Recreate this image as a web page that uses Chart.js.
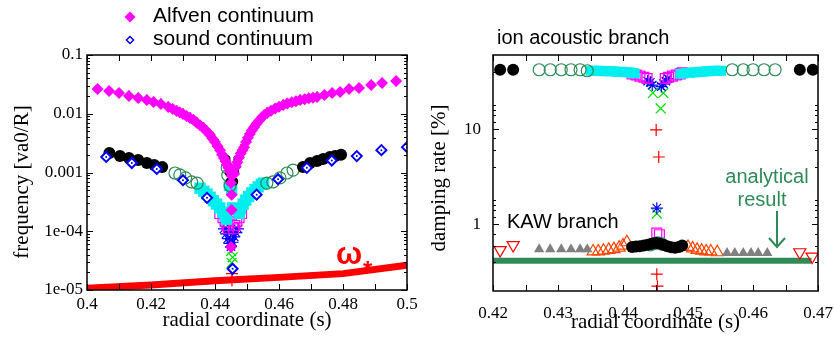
<!DOCTYPE html>
<html>
<head>
<meta charset="utf-8">
<script src="https://cdn.jsdelivr.net/npm/chart.js@4/dist/chart.umd.min.js"></script>
<style>
html, body { margin: 0; padding: 0; background: #fff; }
#wrap { display: flex; width: 834px; height: 338px; }
canvas { display: block; }
</style>
</head>
<body>
<div id="wrap">
    <canvas id="freqChart" width="417" height="338"></canvas>
    <canvas id="dampChart" width="417" height="338"></canvas>
</div>
<script>
// ---------- left panel: frequency of the continua ----------
const freqTickX = [0.40, 0.42, 0.44, 0.46, 0.48, 0.50];
const freqLabelX = ['0.4', '0.42', '0.44', '0.46', '0.48', '0.5'];
const freqTickY = [1e-5, 1e-4, 1e-3, 1e-2, 0.1];
const freqLabelY = ['1e-05', '1e-04', '0.001', '0.01', '0.1'];

const alfvenS = [0.4033, 0.4069, 0.4100, 0.4131, 0.4160, 0.4187, 0.4208, 0.4231, 0.4254, 0.4268, 0.4280, 0.4290, 0.4300, 0.4311,
    0.4322, 0.4333, 0.4343, 0.4354, 0.4364, 0.4374, 0.4384, 0.4392, 0.4400, 0.4408, 0.4416, 0.4422, 0.4428, 0.4433, 0.4437, 0.4442,
    0.4447, 0.4452, 0.4450, 0.4452, 0.4452, 0.4450,
    0.4460, 0.4465, 0.4470, 0.4475, 0.4480, 0.4486, 0.4491, 0.4497, 0.4503, 0.4509, 0.4515, 0.4522, 0.4530, 0.4538, 0.4546, 0.4554,
    0.4563, 0.4575, 0.4588, 0.4600, 0.4613, 0.4626, 0.4640, 0.4653, 0.4666, 0.4680, 0.4693, 0.4706, 0.4719, 0.4742, 0.4766, 0.4791,
    0.4819, 0.4850, 0.4888, 0.4922, 0.4966];
const alfvenF = [0.0264, 0.0244, 0.0225, 0.0200, 0.0185, 0.0171, 0.0158, 0.0147, 0.0130, 0.0121, 0.0111, 0.0105, 0.0099, 0.0092,
    0.0085, 0.0078, 0.0070, 0.0063, 0.0057, 0.0050, 0.0044, 0.0038, 0.0033, 0.0028, 0.0024, 0.0020, 0.00177, 0.00155, 0.00135, 0.0012,
    0.00103, 0.00087, 0.00066, 0.00042, 0.00023, 0.000054,
    0.00095, 0.00125, 0.0015, 0.0018, 0.0021, 0.0024, 0.0027, 0.0033, 0.0039, 0.0045, 0.0052, 0.0059, 0.0068, 0.0077, 0.0086, 0.0095,
    0.0103, 0.0113, 0.0123, 0.0132, 0.0141, 0.0149, 0.0157, 0.0164, 0.0171, 0.0177, 0.0183, 0.0188, 0.0193, 0.0209, 0.0225, 0.0234,
    0.0264, 0.0274, 0.0309, 0.0334, 0.0360];

const alfvenRedS = [0.4131, 0.4160, 0.4187, 0.4208, 0.4231, 0.4254, 0.4280, 0.4300, 0.4322, 0.4343, 0.4364, 0.4384, 0.4400,
    0.4491, 0.4522, 0.4563, 0.4613, 0.4666, 0.4719];
const alfvenRedF = [0.0212, 0.0196, 0.0181, 0.0167, 0.0156, 0.0138, 0.0118, 0.0106, 0.0091, 0.0076, 0.0062, 0.0048, 0.0036,
    0.0030, 0.0064, 0.0111, 0.0151, 0.0181, 0.0204];

const alfvenDarkS = [0.4436, 0.4440, 0.4443, 0.4446, 0.4460, 0.4463, 0.4467, 0.4470];
const alfvenDarkF = [0.0017, 0.0013, 0.0010, 0.0007, 0.0007, 0.0010, 0.0013, 0.0017];

const soundS = [0.4060, 0.4140, 0.4218, 0.4300, 0.4375, 0.4455, 0.4530, 0.4597, 0.4687, 0.4765, 0.4843, 0.4920, 0.5000];
const soundF = [0.00184, 0.00145, 0.00115, 0.00074, 0.00037, 0.000023, 0.00042, 0.00077, 0.0012, 0.0016, 0.0019, 0.0024, 0.0027];

const freqBlackS = [0.4070, 0.4103, 0.4131, 0.4160, 0.4187, 0.4210, 0.4235,
    0.4675, 0.4697, 0.4719, 0.4738, 0.4759, 0.4775, 0.4794];
const freqBlackF = [0.00215, 0.00191, 0.00177, 0.00163, 0.00145, 0.00134, 0.00124,
    0.00124, 0.00145, 0.00157, 0.0017, 0.00184, 0.0019, 0.0020];

const freqGreenS = [0.4275, 0.4290, 0.4308, 0.4327, 0.4344, 0.4438, 0.4440, 0.4447, 0.4562, 0.4581, 0.4603, 0.4625, 0.4644];
const freqGreenF = [0.00098, 0.00091, 0.00081, 0.00069, 0.00066, 0.0012, 0.0009, 0.0006, 0.00066, 0.00069, 0.00081, 0.00098, 0.0011];

const freqCyanS = [0.4353, 0.4365, 0.4375, 0.4385, 0.4395, 0.4405, 0.4415, 0.4425, 0.4432, 0.4436, 0.4445, 0.4452, 0.4455,
    0.4475, 0.4480, 0.4488, 0.4496, 0.4505, 0.4515, 0.4525, 0.4535, 0.4545, 0.4552];
const freqCyanF = [0.00054, 0.00048, 0.00043, 0.00038, 0.00033, 0.00029, 0.00025, 0.00021, 0.00018, 0.00016, 0.0006, 0.0005, 0.00025,
    0.0002, 0.00024, 0.00029, 0.00034, 0.00039, 0.00045, 0.00051, 0.00057, 0.00063, 0.00066];

const freqSquareS = [0.4415, 0.4425, 0.4432, 0.4438, 0.4442, 0.4452, 0.4458, 0.4462, 0.4468, 0.4475, 0.4483];
const freqSquareF = [0.0002, 0.00017, 0.000145, 0.000125, 0.00011, 0.00019, 0.00011, 0.000125, 0.000145, 0.00017, 0.0002];

const freqStarS = [0.4428, 0.4435, 0.4440, 0.4445, 0.4448, 0.4450, 0.4455, 0.4460, 0.4465, 0.4472];
const freqStarF = [0.00011, 0.00009, 0.000075, 0.000062, 0.0001, 0.000055, 0.000065, 0.00008, 0.000095, 0.00011];

const freqCrossS = [0.4450, 0.4455, 0.4452];
const freqCrossF = [0.000046, 0.000036, 0.000029];

const freqPlusS = [0.4453, 0.4453];
const freqPlusF = [0.000019, 0.0000145];

const omegaS = [0.40, 0.42, 0.44, 0.46, 0.48, 0.50];
const omegaF = [1.07e-5, 1.22e-5, 1.44e-5, 1.64e-5, 1.9e-5, 2.63e-5];

// ---------- right panel: damping rate ----------
const dampTickX = [0.42, 0.43, 0.44, 0.45, 0.46, 0.47];
const dampLabelX = ['0.42', '0.43', '0.44', '0.45', '0.46', '0.47'];
const dampTickY = [1, 10];
const dampLabelY = ['1', '10'];

const dampBlackS = [0.4211, 0.4231, 0.4672, 0.4692,
    0.4414, 0.4420, 0.4426, 0.4432, 0.4438, 0.4444, 0.4450, 0.4456, 0.4462, 0.4468, 0.4474, 0.4480, 0.4486, 0.4491];
const dampBlackF = [42, 42, 42, 42,
    0.58, 0.585, 0.59, 0.60, 0.61, 0.625, 0.64, 0.63, 0.61, 0.59, 0.575, 0.57, 0.58, 0.60];

const dampGreenS = [0.4271, 0.4288, 0.4305, 0.4320, 0.4334, 0.4345, 0.4568, 0.4585, 0.4600, 0.4617, 0.4634,
    0.4442, 0.4448, 0.4454, 0.4460];
const dampGreenF = [42, 42, 42, 42, 42, 41, 42, 42, 42, 42, 42,
    0.61, 0.63, 0.64, 0.62];

const dampCyanS = [0.4350, 0.4355, 0.4360, 0.4365, 0.4370, 0.4375, 0.4380, 0.4385, 0.4390, 0.4395, 0.4400, 0.4405, 0.4410, 0.4415, 0.4418,
    0.4488, 0.4493, 0.4498, 0.4503, 0.4508, 0.4513, 0.4518, 0.4523, 0.4528, 0.4533, 0.4538, 0.4543, 0.4548, 0.4551, 0.4449, 0.4455];
const dampCyanF = [41, 41, 41, 41, 40.5, 40.5, 40.5, 40.5, 40, 40, 40, 39.5, 39.5, 39, 38.5,
    38, 38.5, 39, 39, 39.5, 39.5, 40, 40, 40.5, 40.5, 41, 41, 41, 41, 0.64, 0.65];

const dampSquareS = [0.4414, 0.4420, 0.4426, 0.4432, 0.4437, 0.4465, 0.4470, 0.4476, 0.4482, 0.4488, 0.4491, 0.4452, 0.4456];
const dampSquareF = [38, 37, 36, 35, 34, 34, 35, 36, 37, 38, 39, 0.81, 0.78];

const dampStarS = [0.4438, 0.4442, 0.4445, 0.4459, 0.4462, 0.4466, 0.4469, 0.4452];
const dampStarF = [32, 31, 29, 28, 30, 32, 34, 1.48];

const dampCrossS = [0.4446, 0.4462, 0.4458, 0.4452];
const dampCrossF = [24, 24, 16.5, 1.3];

const dampPlusS = [0.4451, 0.4455, 0.4452, 0.4453];
const dampPlusF = [9.8, 5.1, 0.30, 0.225];

const kawRedTriS = [0.4211, 0.4231, 0.4672, 0.4691];
const kawRedTriF = [0.537, 0.607, 0.51, 0.46];

const kawGrayTriS = [0.4271, 0.4288, 0.4305, 0.4320, 0.4334, 0.4345, 0.4560, 0.4572, 0.4585, 0.4597, 0.4608, 0.4622];
const kawGrayTriF = [0.55, 0.55, 0.55, 0.55, 0.55, 0.55, 0.50, 0.50, 0.50, 0.50, 0.50, 0.50];

const kawOrangeTriS = [0.4354, 0.4362, 0.4370, 0.4378, 0.4386, 0.4394, 0.4400, 0.4406,
    0.4500, 0.4507, 0.4514, 0.4521, 0.4528, 0.4535, 0.4545];
const kawOrangeTriF = [0.52, 0.52, 0.53, 0.54, 0.55, 0.57, 0.60, 0.65,
    0.58, 0.56, 0.54, 0.53, 0.52, 0.52, 0.51];

const analyticS = [0.4200, 0.4690];
const analyticF = [0.415, 0.415];

// ---------- helpers ----------
function pts(s, f) {
    return s.map((v, i) => ({x: v, y: f[i]}));
}

function diamond(ctx, x, y, r, fill, stroke) {
    ctx.beginPath();
    ctx.moveTo(x, y - r);
    ctx.lineTo(x + r, y);
    ctx.lineTo(x, y + r);
    ctx.lineTo(x - r, y);
    ctx.closePath();
    ctx.fillStyle = fill;
    ctx.fill();
    if (stroke) {
        ctx.strokeStyle = stroke;
        ctx.lineWidth = 1.5;
        ctx.stroke();
    }
}

function verticalText(ctx, text, x, y) {
    ctx.save();
    ctx.translate(x, y);
    ctx.rotate(-Math.PI / 2);
    ctx.fillStyle = '#000';
    ctx.font = '21px "Liberation Serif"';
    ctx.textAlign = 'center';
    ctx.textBaseline = 'middle';
    ctx.fillText(text, 0, 0);
    ctx.restore();
}

// gnuplot-like box with inward ticks on all four sides
function frameFor(xTicks, yMajor, yMinor) {
    return {
        id: 'frame',
        afterDatasetsDraw(chart) {
            const {ctx, chartArea: a, scales: {x, y}} = chart;
            ctx.save();
            ctx.strokeStyle = '#000';
            ctx.lineWidth = 1;
            ctx.beginPath();
            xTicks.forEach(v => {
                const px = Math.round(x.getPixelForValue(v)) + 0.5;
                ctx.moveTo(px, a.bottom); ctx.lineTo(px, a.bottom - 6);
                ctx.moveTo(px, a.top); ctx.lineTo(px, a.top + 6);
            });
            yMajor.forEach(v => {
                const py = Math.round(y.getPixelForValue(v)) + 0.5;
                ctx.moveTo(a.left, py); ctx.lineTo(a.left + 6, py);
                ctx.moveTo(a.right, py); ctx.lineTo(a.right - 6, py);
            });
            yMinor.forEach(v => {
                const py = Math.round(y.getPixelForValue(v)) + 0.5;
                ctx.moveTo(a.left, py); ctx.lineTo(a.left + 3, py);
                ctx.moveTo(a.right, py); ctx.lineTo(a.right - 3, py);
            });
            ctx.stroke();
            ctx.lineWidth = 1.5;
            ctx.strokeRect(a.left, a.top, a.right - a.left, a.bottom - a.top);
            ctx.restore();
        }
    };
}

function logMinor(lo, hi) {
    const out = [];
    for (let d = lo; d < hi; d *= 10) {
        for (let k = 2; k <= 9; k++) {
            if (d * k < hi) out.push(d * k);
        }
    }
    return out;
}

const serifTick = {family: 'Liberation Serif', size: 17};
const serifTitle = {family: 'Liberation Serif', size: 21};

// ---------- left chart ----------
const freqNotes = {
    id: 'freqNotes',
    afterDraw(chart) {
        const ctx = chart.ctx;
        ctx.save();
        verticalText(ctx, 'frequency [va0/R]', 22, 182);
        diamond(ctx, 130, 17, 5.5, '#ff00ff', null);
        diamond(ctx, 130, 40, 3.5, '#ffffff', '#0000ff');
        ctx.fillStyle = '#000';
        ctx.font = '21px "Liberation Sans"';
        ctx.textAlign = 'left';
        ctx.textBaseline = 'middle';
        ctx.fillText('Alfven continuum', 153, 16);
        ctx.fillText('sound continuum', 153, 39);
        ctx.fillStyle = '#ff0000';
        ctx.textBaseline = 'alphabetic';
        ctx.font = 'bold 31px "Liberation Sans"';
        ctx.fillText('ω', 336, 264);
        ctx.font = 'bold 24px "Liberation Sans"';
        ctx.fillText('*', 363, 278);
        ctx.restore();
    }
};

new Chart('freqChart', {
    type: 'scatter',
    data: {
        datasets: [
            {data: pts(soundS, soundF), pointStyle: 'circle', pointRadius: 1, backgroundColor: '#0000ff', borderWidth: 0},
            {data: pts(soundS, soundF), pointStyle: 'rectRot', pointRadius: 5, backgroundColor: '#ffffff', borderColor: '#0000ff', borderWidth: 2},
            {data: pts(alfvenS, alfvenF), pointStyle: 'rectRot', pointRadius: 6, backgroundColor: '#ff00ff', borderWidth: 0},
            {data: pts(alfvenDarkS, alfvenDarkF), pointStyle: 'circle', pointRadius: 4, backgroundColor: '#000', borderWidth: 0},
            {data: pts(alfvenRedS, alfvenRedF), pointStyle: 'cross', pointRadius: 4, borderColor: '#ff2000', borderWidth: 1.5},
            {data: pts(freqBlackS, freqBlackF), pointStyle: 'circle', pointRadius: 6, backgroundColor: '#000', borderWidth: 0},
            {data: pts(freqGreenS, freqGreenF), pointStyle: 'circle', pointRadius: 6, backgroundColor: 'rgba(0,0,0,0)', borderColor: '#2e8b57', borderWidth: 1.2},
            {data: pts(freqCyanS, freqCyanF), pointStyle: 'rect', pointRadius: 8, backgroundColor: '#00eeee', borderWidth: 0},
            {data: pts(freqSquareS, freqSquareF), pointStyle: 'rect', pointRadius: 7, backgroundColor: 'rgba(0,0,0,0)', borderColor: '#ff00ff', borderWidth: 1.2},
            {data: pts(freqStarS, freqStarF), pointStyle: 'star', pointRadius: 6, borderColor: '#0000ff', borderWidth: 1.2},
            {data: pts(freqCrossS, freqCrossF), pointStyle: 'crossRot', pointRadius: 7, borderColor: '#00dd00', borderWidth: 1.2},
            {data: pts(freqPlusS, freqPlusF), pointStyle: 'cross', pointRadius: 6, borderColor: '#ff0000', borderWidth: 1.2},
            {data: pts(omegaS, omegaF), showLine: true, pointRadius: 0, borderColor: '#ff0000', borderWidth: 7}
        ]
    },
    options: {
        responsive: false,
        animation: false,
        events: [],
        layout: {padding: {top: 55, right: 10, left: 0, bottom: 0}},
        plugins: {legend: {display: false}, tooltip: {enabled: false}},
        scales: {
            x: {
                type: 'linear', min: 0.4, max: 0.5,
                afterBuildTicks: axis => { axis.ticks = freqTickX.map(v => ({value: v})); },
                afterFit: axis => { axis.height = 48; axis.paddingLeft = 0; axis.paddingRight = 0; },
                grid: {display: false, drawTicks: false},
                border: {display: false},
                ticks: {font: serifTick, color: '#000', padding: 4, autoSkip: false, maxRotation: 0,
                    callback: (v, i) => freqLabelX[i]},
                title: {display: true, text: 'radial coordinate (s)', font: serifTitle, color: '#000', padding: {top: 0, bottom: 5}}
            },
            y: {
                type: 'logarithmic', min: 1e-5, max: 0.1,
                afterBuildTicks: axis => { axis.ticks = freqTickY.map(v => ({value: v})); },
                afterFit: axis => { axis.width = 87; axis.paddingTop = 0; axis.paddingBottom = 0; },
                grid: {display: false, drawTicks: false},
                border: {display: false},
                ticks: {font: serifTick, color: '#000', padding: 4, autoSkip: false,
                    callback: (v, i) => freqLabelY[i]}
            }
        }
    },
    plugins: [frameFor([0.40, 0.41, 0.42, 0.43, 0.44, 0.45, 0.46, 0.47, 0.48, 0.49, 0.50], freqTickY, logMinor(1e-5, 0.1)), freqNotes]
});

// ---------- right chart ----------
const dampNotes = {
    id: 'dampNotes',
    afterDraw(chart) {
        const ctx = chart.ctx;
        ctx.save();
        verticalText(ctx, 'damping rate [%]', 22, 178);
        ctx.fillStyle = '#000';
        ctx.font = '20px "Liberation Sans"';
        ctx.textAlign = 'left';
        ctx.textBaseline = 'middle';
        ctx.fillText('ion acoustic branch', 80, 38);
        ctx.fillText('KAW branch', 90, 222);
        ctx.fillStyle = '#2e8b57';
        ctx.textAlign = 'center';
        ctx.fillText('analytical', 350, 177);
        ctx.fillText('result', 345, 200);
        ctx.strokeStyle = '#2e8b57';
        ctx.lineWidth = 2;
        ctx.beginPath();
        ctx.moveTo(360, 211); ctx.lineTo(360, 247);
        ctx.moveTo(352, 238); ctx.lineTo(360, 247); ctx.lineTo(368, 238);
        ctx.stroke();
        ctx.restore();
    }
};

new Chart('dampChart', {
    type: 'scatter',
    data: {
        datasets: [
            {data: pts(dampBlackS, dampBlackF), pointStyle: 'circle', pointRadius: 6, backgroundColor: '#000', borderWidth: 0},
            {data: pts(dampGreenS, dampGreenF), pointStyle: 'circle', pointRadius: 6, backgroundColor: 'rgba(0,0,0,0)', borderColor: '#2e8b57', borderWidth: 1.2},
            {data: pts(dampCyanS, dampCyanF), pointStyle: 'rect', pointRadius: 7, backgroundColor: '#00eeee', borderWidth: 0},
            {data: pts(dampSquareS, dampSquareF), pointStyle: 'rect', pointRadius: 7, backgroundColor: 'rgba(0,0,0,0)', borderColor: '#ff00ff', borderWidth: 1.2},
            {data: pts(dampStarS, dampStarF), pointStyle: 'star', pointRadius: 6, borderColor: '#0000ff', borderWidth: 1.2},
            {data: pts(dampCrossS, dampCrossF), pointStyle: 'crossRot', pointRadius: 7, borderColor: '#00dd00', borderWidth: 1.2},
            {data: pts(dampPlusS, dampPlusF), pointStyle: 'cross', pointRadius: 6, borderColor: '#ff0000', borderWidth: 1.2},
            {data: pts(kawRedTriS, kawRedTriF), pointStyle: 'triangle', rotation: 180, pointRadius: 7, backgroundColor: 'rgba(0,0,0,0)', borderColor: '#ff0000', borderWidth: 1.2},
            {data: pts(kawGrayTriS, kawGrayTriF), pointStyle: 'triangle', pointRadius: 6, backgroundColor: '#808080', borderWidth: 0},
            {data: pts(kawOrangeTriS, kawOrangeTriF), pointStyle: 'triangle', pointRadius: 7, backgroundColor: 'rgba(0,0,0,0)', borderColor: '#ff4500', borderWidth: 1.2},
            {data: pts(analyticS, analyticF), showLine: true, pointRadius: 0, borderColor: '#2e8b57', borderWidth: 6}
        ]
    },
    options: {
        responsive: false,
        animation: false,
        events: [],
        layout: {padding: {top: 55, right: 16, left: 0, bottom: 0}},
        plugins: {legend: {display: false}, tooltip: {enabled: false}},
        scales: {
            x: {
                type: 'linear', min: 0.42, max: 0.47,
                afterBuildTicks: axis => { axis.ticks = dampTickX.map(v => ({value: v})); },
                afterFit: axis => { axis.height = 47; axis.paddingLeft = 0; axis.paddingRight = 0; },
                grid: {display: false, drawTicks: false},
                border: {display: false},
                ticks: {font: serifTick, color: '#000', padding: 12, autoSkip: false, maxRotation: 0,
                    callback: (v, i) => dampLabelX[i]},
                title: {display: true, text: 'radial coordinate (s)', font: serifTitle, color: '#000', padding: {top: 0, bottom: 3}}
            },
            y: {
                type: 'logarithmic', min: 0.2, max: 60,
                afterBuildTicks: axis => { axis.ticks = dampTickY.map(v => ({value: v})); },
                afterFit: axis => { axis.width = 76; axis.paddingTop = 0; axis.paddingBottom = 0; },
                grid: {display: false, drawTicks: false},
                border: {display: false},
                ticks: {font: serifTick, color: '#000', padding: 12, autoSkip: false,
                    callback: (v, i) => dampLabelY[i]}
            }
        }
    },
    plugins: [frameFor([0.42, 0.425, 0.43, 0.435, 0.44, 0.445, 0.45, 0.455, 0.46, 0.465, 0.47], dampTickY, logMinor(0.2, 60)), dampNotes]
});
</script>
</body>
</html>
